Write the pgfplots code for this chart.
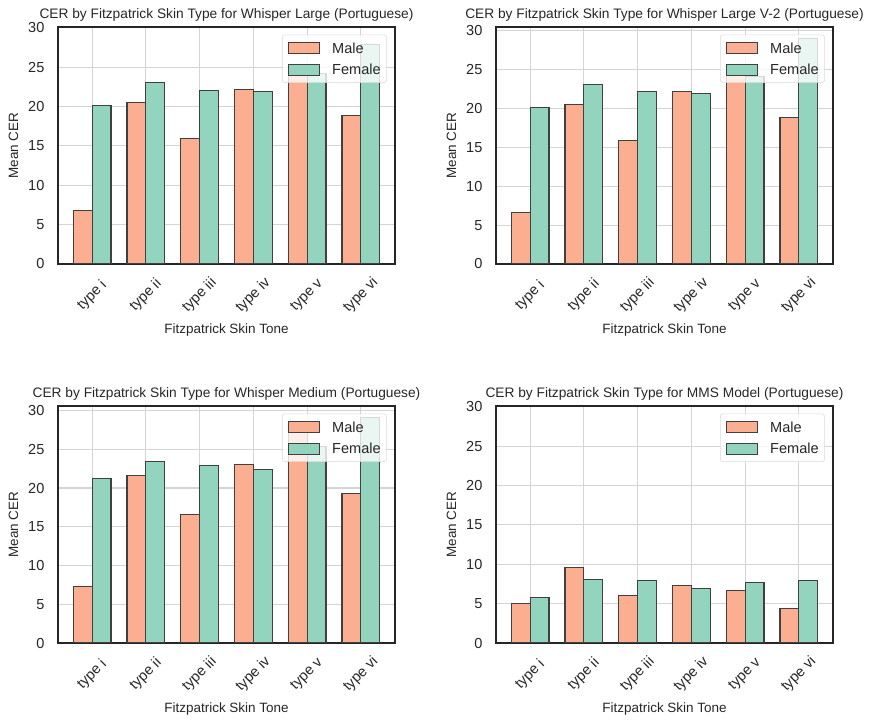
\documentclass[border=0pt]{standalone}
\usepackage{fontspec}
\setmainfont{Liberation Sans}
\usepackage{pgfplots}
\pgfplotsset{compat=1.18}
\definecolor{malec}{RGB}{252,174,145}
\definecolor{femc}{RGB}{147,212,191}
\definecolor{txt}{RGB}{38,38,38}
\definecolor{gridc}{RGB}{212,212,212}

\pgfplotsset{
  panel/.style={
    scale only axis, width=252.75pt, height=177.75pt, anchor=south west,
    xmin=-0.635, xmax=5.635, ymin=0,
    xtick={0,...,5}, xticklabels={type i, type ii, type iii, type iv, type v, type vi},
    ytick={0,5,...,30},
    tick style={draw=none}, major tick length=0pt,
    grid=major, grid style={gridc, line width=0.9pt},
    axis line style={txt, line width=1.4pt},
    tick label style={font=\fontsize{10.9}{13}\selectfont, text=txt},
    /pgf/number format/assume math mode=true,
    yticklabel style={anchor=east, inner sep=0pt, xshift=-10pt},
    xticklabel style={yshift=-23.6pt, rotate=45, anchor=center, inner sep=0pt},
    xlabel={Fitzpatrick Skin Tone}, ylabel={Mean CER},
    label style={font=\fontsize{10.1}{12}\selectfont, text=txt},
    xlabel style={at={(axis description cs:0.5,-0.2785)}, anchor=center},
    ylabel style={at={(axis description cs:-0.132,0.5)}, anchor=center},
    title style={at={(axis description cs:0.5,1.0168)}, anchor=center, font=\fontsize{10.3}{12}\selectfont, text=txt},
    legend cell align=left,
    legend style={at={(axis description cs:0.976,0.968)}, anchor=north east,
      fill=white, fill opacity=0.8, text opacity=1, draw=black!15, rounded corners=2pt,
      inner xsep=4.5pt, inner ysep=1.5pt, font=\fontsize{10.9}{13}\selectfont, text=txt,
      nodes={inner xsep=0pt, inner ysep=4.2pt, text height=8pt, text depth=0pt},
      /tikz/every odd column/.append style={column sep=8.8pt}, row sep=0pt},
    legend image code/.code={\draw[#1, fill opacity=1, draw opacity=1, sharp corners] (0pt,-4.1pt) rectangle (23.25pt,4.1pt);},
  },
  mbar/.style={ybar, bar width=0.35, bar shift=-0.175, fill=malec, draw=black!75, line width=0.9pt},
  fbar/.style={ybar, bar width=0.35, bar shift=0.175, fill=femc, draw=black!75, line width=0.9pt},
}

\begin{document}
\begin{tikzpicture}
\path (0,0) rectangle (656.25pt,543.75pt);

\begin{axis}[panel, at={(43.5pt,345.75pt)}, ymax=30.1,
  title={CER by Fitzpatrick Skin Type for Whisper Large (Portuguese)}]
\addplot[mbar] coordinates {(0,6.77) (1,20.5) (2,15.95) (3,22.17) (4,24.5) (5,18.87)};
\addplot[fbar] coordinates {(0,20.1) (1,23.06) (2,22.05) (3,21.88) (4,24.2) (5,27.9)};
\legend{Male,Female}
\end{axis}

\begin{axis}[panel, at={(372pt,345.75pt)}, ymax=30.47,
  title={CER by Fitzpatrick Skin Type for Whisper Large V-2 (Portuguese)}]
\addplot[mbar] coordinates {(0,6.64) (1,20.53) (2,15.9) (3,22.2) (4,24.6) (5,18.86)};
\addplot[fbar] coordinates {(0,20.14) (1,23.1) (2,22.2) (3,21.95) (4,24.13) (5,29.0)};
\legend{Male,Female}
\end{axis}

\begin{axis}[panel, at={(43.5pt,61.5pt)}, ymax=30.6,
  title={CER by Fitzpatrick Skin Type for Whisper Medium (Portuguese)}]
\addplot[mbar] coordinates {(0,7.28) (1,21.64) (2,16.6) (3,23.06) (4,28.0) (5,19.3)};
\addplot[fbar] coordinates {(0,21.2) (1,23.45) (2,22.93) (3,22.41) (4,25.4) (5,29.14)};
\legend{Male,Female}
\end{axis}

\begin{axis}[panel, at={(372pt,61.5pt)}, ymax=30.1,
  title={CER by Fitzpatrick Skin Type for MMS Model (Portuguese)}]
\addplot[mbar] coordinates {(0,5.0) (1,9.58) (2,6.02) (3,7.29) (4,6.65) (5,4.36)};
\addplot[fbar] coordinates {(0,5.76) (1,8.05) (2,7.92) (3,6.9) (4,7.67) (5,7.92)};
\legend{Male,Female}
\end{axis}
\end{tikzpicture}
\end{document}
